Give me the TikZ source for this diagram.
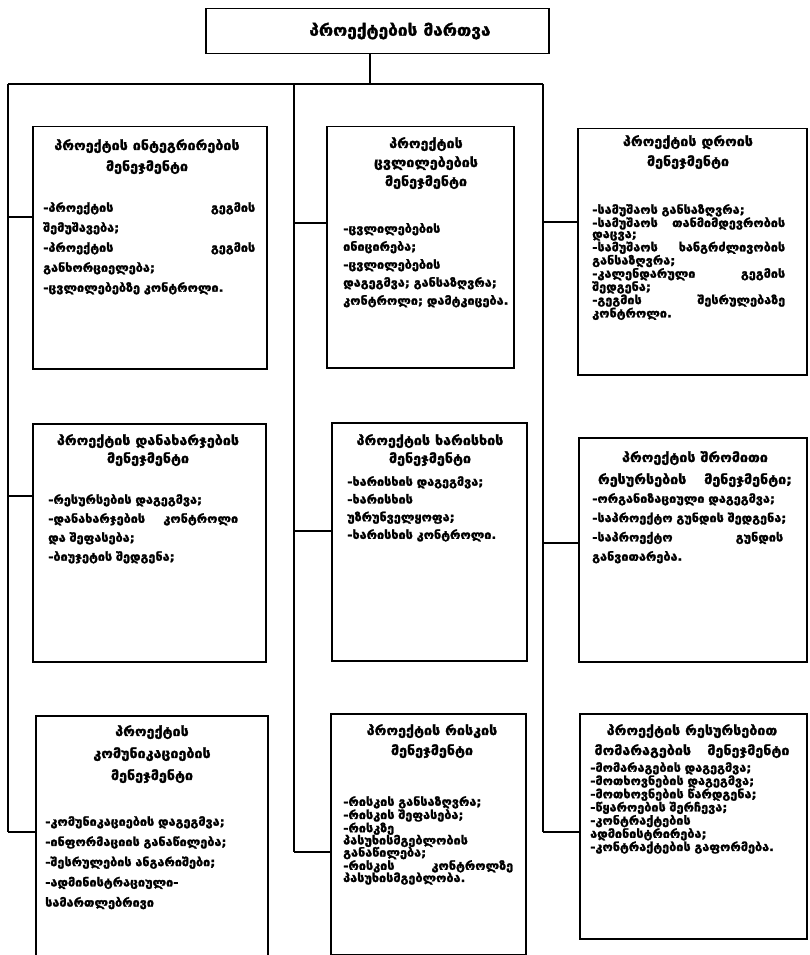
\documentclass[tikz,border=0pt]{standalone}
\usepackage{fontspec}
\setmainfont{DejaVu Sans}
\newfontfamily\geob{DejaVu Sans Bold}[FakeStretch=1.1, FakeBold=2.0]
\newcommand{\bsz}[1]{\fontsize{11.5}{#1}\selectfont\geob}
\newcommand{\tsz}[1]{\fontsize{13}{#1}\selectfont\geob}
\newcommand{\jl}[3]{\makebox[#1pt][l]{#2\hfill #3}}
\begin{document}
\begin{tikzpicture}[x=1pt,y=-1pt,
  box/.style={draw, line width=1.5pt, inner sep=0pt, anchor=north west},
  ln/.style={line width=1.5pt},
  ttl/.style={align=center, inner sep=0pt, anchor=north},
  bdy/.style={align=left, inner sep=0pt, anchor=north west, text width=260pt}]
\useasboundingbox (0,0) rectangle (809,955);
% top
\node[box, minimum width=343pt, minimum height=45pt] (T) at (205,8) {};
\node[inner sep=0pt, font=\fontsize{15.7}{18}\selectfont\geob] (Tt) at (400,31) {პროექტების მართვა};
% trunk
\coordinate (bL) at (8,84);
\coordinate (bM) at (294,84);
\coordinate (bR) at (543,84);
\coordinate (stem) at (370,84);
\draw[ln] (stem |- T.south) -- (stem);
\draw[ln] (bL) -- (bR);
\coordinate (eL) at (8,832);
\coordinate (eM) at (294,852);
\coordinate (eR) at (543,832);
\draw[ln] (bL) -- (eL);
\draw[ln] (bM) -- (eM);
\draw[ln] (bR) -- (eR);
% boxes
\node[box, minimum width=234pt, minimum height=242pt] (L1) at (32,126) {};
\node[box, minimum width=187pt, minimum height=241pt] (M1) at (326,126) {};
\node[box, minimum width=229pt, minimum height=246pt] (R1) at (577,128) {};
\node[box, minimum width=233pt, minimum height=238pt] (L2) at (32,423) {};
\node[box, minimum width=195pt, minimum height=238pt] (M2) at (331,422) {};
\node[box, minimum width=228pt, minimum height=224pt] (R2) at (578,437) {};
\node[box, minimum width=232pt, minimum height=260pt] (L3) at (35,715) {};
\node[box, minimum width=195pt, minimum height=241pt] (M3) at (330,713) {};
\node[box, minimum width=227pt, minimum height=225pt] (R3) at (579,713) {};
% stubs
\coordinate (sL1) at (8,217);   \draw[ln] (sL1) -- (sL1 -| L1.west);
\coordinate (sM1) at (294,223); \draw[ln] (sM1) -- (sM1 -| M1.west);
\coordinate (sR1) at (543,222); \draw[ln] (sR1) -- (sR1 -| R1.west);
\coordinate (sL2) at (8,496);   \draw[ln] (sL2) -- (sL2 -| L2.west);
\coordinate (sM2) at (294,531); \draw[ln] (sM2) -- (sM2 -| M2.west);
\coordinate (sR2) at (543,543); \draw[ln] (sR2) -- (sR2 -| R2.west);
\coordinate (sL3) at (8,832);   \draw[ln] (sL3) -- (sL3 -| L3.west);
\coordinate (sM3) at (294,852); \draw[ln] (sM3) -- (sM3 -| M3.west);
\coordinate (sR3) at (543,832); \draw[ln] (sR3) -- (sR3 -| R3.west);
% L1
\node[ttl, font=\tsz{21}] (L1t) at (147,139) {პროექტის ინტეგრირების\\მენეჯმენტი};
\node[bdy, font=\bsz{20}] (L1b) at (43,202) {\jl{212}{-პროექტის}{გეგმის}\\შემუშავება;\\\jl{212}{-პროექტის}{გეგმის}\\განხორციელება;\\-ცვლილებებზე კონტროლი.};
% M1
\node[ttl, font=\tsz{19}] (M1t) at (426,137) {პროექტის\\ცვლილებების\\მენეჯმენტი};
\node[bdy, font=\bsz{18}] (M1b) at (343,223) {-ცვლილებების\\ინიცირება;\\-ცვლილებების\\დაგეგმვა; განსაზღვრა;\\კონტროლი; დამტკიცება.};
% R1
\node[ttl, font=\tsz{20}] (R1t) at (688,135) {პროექტის დროის\\მენეჯმენტი};
\node[bdy, font=\bsz{11.1}] (R1b) at (592,204) {-სამუშაოს განსაზღვრა;\\\jl{193}{-სამუშაოს}{თანმიმდევრობის}\\დაცვა;\\\jl{193}{-სამუშაოს}{ხანგრძლივობის}\\განსაზღვრა;\\\jl{193}{-კალენდარული}{გეგმის}\\შედგენა;\\\jl{193}{-გეგმის}{შესრულებაზე}\\კონტროლი.};
% L2
\node[ttl, font=\tsz{18}] (L2t) at (148,434) {პროექტის დანახარჯების\\მენეჯმენტი};
\node[bdy, font=\bsz{19}] (L2b) at (48,494) {-რესურსების დაგეგმვა;\\\jl{190}{-დანახარჯების}{კონტროლი}\\და შეფასება;\\-ბიუჯეტის შედგენა;};
% M2
\node[ttl, font=\tsz{18}] (M2t) at (430,434) {პროექტის ხარისხის\\მენეჯმენტი};
\node[bdy, font=\bsz{17.7}] (M2b) at (347,476) {-ხარისხის დაგეგმვა;\\-ხარისხის\\უზრუნველყოფა;\\-ხარისხის კონტროლი.};
% R2
\node[ttl, font=\tsz{22}] (R2t) at (695,451) {პროექტის შრომითი\\\jl{194}{რესურსების}{მენეჯმენტი;}};
\node[bdy, font=\bsz{19.3}] (R2b) at (592,493) {-ორგანიზაციული დაგეგმვა;\\-საპროექტო გუნდის შედგენა;\\\jl{191}{-საპროექტო}{გუნდის}\\განვითარება.};
% L3
\node[ttl, font=\tsz{22}] (L3t) at (152,725) {პროექტის\\კომუნიკაციების\\მენეჯმენტი};
\node[bdy, font=\bsz{20.2}] (L3b) at (45,816) {-კომუნიკაციების დაგეგმვა;\\-ინფორმაციის განაწილება;\\-შესრულების ანგარიშები;\\-ადმინისტრაციული-\\სამართლებრივი};
% M3
\node[ttl, font=\tsz{20}] (M3t) at (432,724) {პროექტის რისკის\\მენეჯმენტი};
\node[bdy, font=\bsz{12.2}] (M3b) at (343,796) {-რისკის განსაზღვრა;\\-რისკის შეფასება;\\-რისკზე\\პასუხისმგებლობის\\განაწილება;\\\jl{170}{-რისკის}{კონტროლზე}\\პასუხისმგებლობა.};
% R3
\node[ttl, font=\tsz{20}] (R3t) at (692,724) {პროექტის რესურსებით\\\jl{195}{მომარაგების}{მენეჯმენტი}};
\node[bdy, font=\bsz{11.7}] (R3b) at (590,762) {-მომარაგების დაგეგმვა;\\-მოთხოვნების დაგეგმვა;\\-მოთხოვნების წარდგენა;\\-წყაროების შერჩევა;\\-კონტრაქტების\\ადმინისტრირება;\\-კონტრაქტების გაფორმება.};
\end{tikzpicture}
\end{document}
